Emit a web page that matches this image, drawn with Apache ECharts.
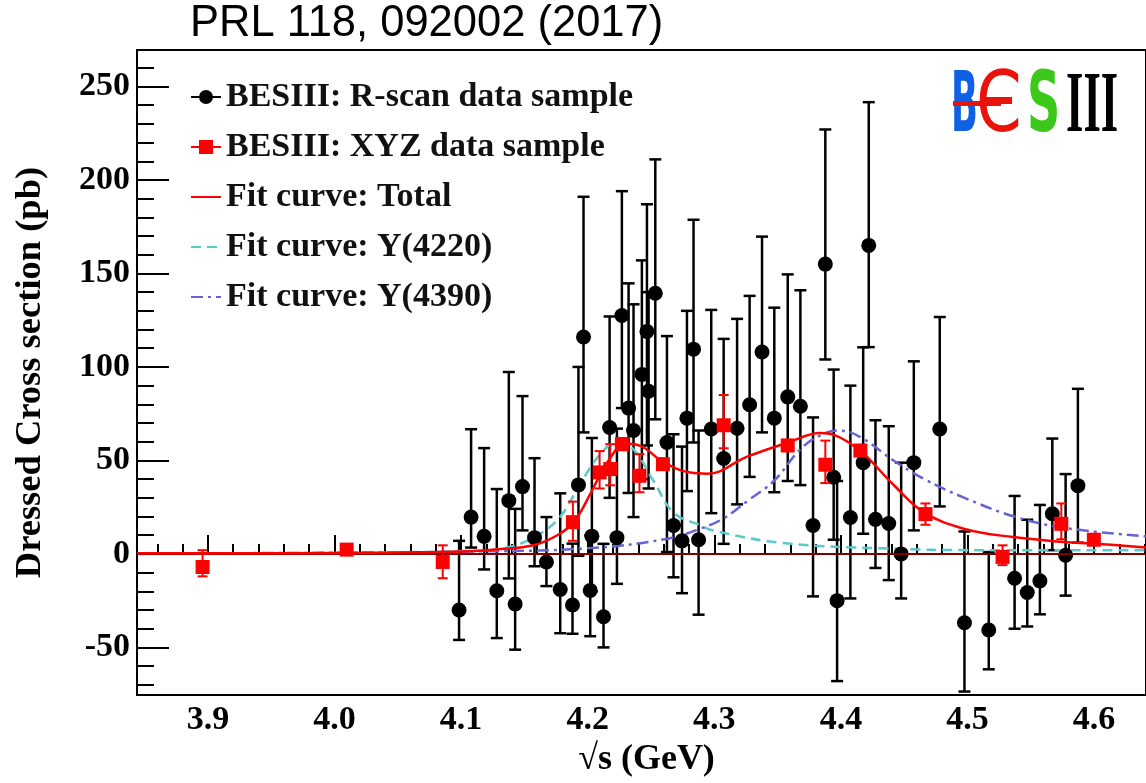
<!DOCTYPE html>
<html>
<head>
<meta charset="utf-8">
<script src="https://cdn.jsdelivr.net/npm/echarts@6/dist/echarts.min.js"></script>
<style>
  html, body { margin: 0; padding: 0; background: #fff; }
  #main { width: 1146px; height: 783px; }
</style>
</head>
<body>
<div id="main"></div>
<script>
// BESIII R-scan points: sqrt(s), value, lower and upper end of error bar
var rscanX = [4.0984,4.1079,4.1182,4.1282,4.1377,4.1427,4.1485,4.1580,4.1674,4.1783,4.1880,4.1927,4.1967,4.2020,4.2033,4.2125,4.2173,4.2231,4.2270,4.2323,4.2362,4.2428,4.2468,4.2481,4.2534,4.2626,4.2678,4.2745,4.2784,4.2836,4.2876,4.2976,4.3074,4.3180,4.3279,4.3377,4.3474,4.3580,4.3680,4.3780,4.3877,4.3943,4.3970,4.4075,4.4176,4.4220,4.4273,4.4378,4.4476,4.4576,4.4781,4.4976,4.5168,4.5372,4.5472,4.5572,4.5670,4.5775,4.5872];
var rscanY = [-30,19.7,9.4,-19.7,28.5,-26.8,36,8.7,-4.3,-19,-27.3,36.9,116,-19.5,9.5,-33.6,67.6,8.7,127.5,78,66,96,119,87,139.4,59.6,15.2,7,72.6,109.5,7.6,66.8,51,67.2,79.8,108,72.6,84,79,15.2,155,41,-25,19.5,48.8,165,18.5,16.3,0,48.8,66.8,-36.8,-40.7,-13,-20.6,-14.4,21.5,-0.7,36.5];
var rscanLo = [-46,3.4,-8.3,-45,-13.1,-51.2,12.6,-6.6,-17.2,-42.4,-42.7,-1,65,-44,-20,-50,30,-16,78,32.6,19.7,40,58,35,72,1,-12.5,-21,33.6,59.6,-32.5,21.8,5.4,26.5,41.2,65,33,39,36.8,-22.7,104,7.6,-68,-23.8,10.8,110.6,-7.5,-14,-23.8,12.6,25.4,-73.6,-61.7,-40,-38.8,-32.3,2,-22.3,6];
var rscanHi = [7,66.7,56.6,34.7,97.3,24.1,84.4,51.2,19.7,32.4,5.5,100,191,10,62,5.4,127,67,194,144.7,133.5,157,187,140,211,116.5,64,57.4,130,178.7,66,130.5,115,125.7,138,169.7,131.7,149.5,141,73,227,98.6,39,90,110.5,241.6,71.5,68.3,48.8,103,126.7,12,1,31,18.3,26.2,61.7,42.7,88.3];

// BESIII XYZ points
var xyzX = [3.8958,4.0096,4.0855,4.1883,4.2094,4.2178,4.2270,4.2409,4.2594,4.3074,4.3580,4.3877,4.4154,4.4668,4.5277,4.5741,4.5998];
var xyzY = [-7,2.3,-4.3,17,43.6,45.4,58.7,41.8,48,68.8,58,47.7,55.3,21.3,-1.6,16.1,7.6];
var xyzLo = [-12,0.5,-13,7,35,36.7,55.5,33,45,56.5,55,37.9,52.3,15.6,-6,7.8,5];
var xyzHi = [2,4,4.6,28,55,58.7,62,53.4,51,85,61,60.6,58.3,27,4.6,27,10];

// fit curves
var totalX = [3.844,3.95,4.05,4.10,4.13,4.157,4.176,4.189,4.202,4.21,4.22,4.228,4.2415,4.26,4.281,4.2945,4.326,4.358,4.384,4.394,4.4154,4.4415,4.465,4.497,4.536,4.576,4.60,4.641];
var totalY = [0.3,0.4,0.8,1.3,2.5,4.6,10,17,32,42.7,53.4,59,57.8,49,43.5,42.9,52,59.5,64.7,63.8,55,37,22.5,13.5,9,6.4,5.5,3.4];
var y4220X = [3.844,4.0,4.1,4.131,4.157,4.178,4.194,4.21,4.223,4.236,4.252,4.268,4.2889,4.2996,4.353,4.432,4.511,4.641];
var y4220Y = [0.2,0.5,1.5,2.8,8.7,19.7,37.4,53.4,59.6,56,39,22,15.3,12.4,5.9,3,2,2];
var y4390X = [3.844,4.0,4.1,4.2,4.262,4.2889,4.3074,4.3265,4.347,4.368,4.384,4.398,4.4154,4.4415,4.466,4.4976,4.537,4.576,4.641];
var y4390Y = [0.3,0.6,1.2,3,8,13.5,19,28.5,39,56,63.5,66,62.5,50,40,30,20,14,9.4];

// axis ticks
var xLabels = [3.9,4.0,4.1,4.2,4.3,4.4,4.5,4.6];
var xMinor = [3.86,3.88,3.92,3.94,3.96,3.98,4.02,4.04,4.06,4.08,4.12,4.14,4.16,4.18,4.22,4.24,4.26,4.28,4.32,4.34,4.36,4.38,4.42,4.44,4.46,4.48,4.52,4.54,4.56,4.58,4.62,4.64];
var yLabels = [-50,0,50,100,150,200,250];
var yMinor = [-70,-60,-40,-30,-20,-10,10,20,30,40,60,70,80,90,110,120,130,140,160,170,180,190,210,220,230,240,260];

function zip(a, b, c, d) {
  return a.map(function (v, i) { return c ? [v, b[i], c[i], d[i]] : [v, b[i]]; });
}

function errBar(color, width, cap) {
  return function (params, api) {
    var x = api.value(0);
    var top = api.coord([x, api.value(3)]);
    var bot = api.coord([x, api.value(2)]);
    var st = { stroke: color, lineWidth: width };
    return {
      type: 'group',
      children: [
        { type: 'line', shape: { x1: top[0], y1: top[1], x2: bot[0], y2: bot[1] }, style: st },
        { type: 'line', shape: { x1: top[0] - cap, y1: top[1], x2: top[0] + cap, y2: top[1] }, style: st },
        { type: 'line', shape: { x1: bot[0] - cap, y1: bot[1], x2: bot[0] + cap, y2: bot[1] }, style: st }
      ]
    };
  };
}

var serif = 'Liberation Serif';
var chart = echarts.init(document.getElementById('main'));
var option = {
  animation: false,
  title: {
    text: 'PRL 118, 092002 (2017)',
    left: 190, top: 2, padding: 0,
    textStyle: { fontFamily: 'Liberation Sans', fontWeight: 'normal', fontSize: 43.5, color: '#000' }
  },
  grid: { left: 137, top: 50, right: -3, bottom: 84, show: true, borderColor: '#000', borderWidth: 2 },
  legend: {
    left: 190, top: 79, orient: 'vertical', padding: 0,
    itemWidth: 30, itemHeight: 14, itemGap: 14,
    selectedMode: false,
    textStyle: { fontFamily: serif, fontWeight: 'bold', fontSize: 34, lineHeight: 36, color: '#111' },
    data: [
      { name: 'BESIII: R-scan data sample', icon: 'path://M0,6H30V8H0Z M22,7A7,7 0 1 1 8,7A7,7 0 1 1 22,7Z' },
      { name: 'BESIII: XYZ data sample', icon: 'path://M0,6H30V8H0Z M8,0H22V14H8Z' },
      { name: 'Fit curve: Total', itemStyle: { opacity: 0 } },
      { name: 'Fit curve: Y(4220)', itemStyle: { opacity: 0 } },
      { name: 'Fit curve: Y(4390)', itemStyle: { opacity: 0 } }
    ]
  },
  xAxis: [
    {
      type: 'value', min: 3.844, max: 4.641,
      name: '√s (GeV)', nameLocation: 'middle', nameGap: 46,
      nameTextStyle: { fontFamily: serif, fontWeight: 'bold', fontSize: 36, color: '#000', padding: [0, 0, 0, 10] },
      axisLine: { lineStyle: { color: '#000', width: 2 } },
      axisTick: { inside: true, length: 19, customValues: xLabels, lineStyle: { color: '#000', width: 2 } },
      axisLabel: { customValues: xLabels, margin: 8, fontFamily: serif, fontWeight: 'bold', fontSize: 34, color: '#000',
        formatter: function (v) { return v.toFixed(1); } },
      splitLine: { show: false }
    },
    {
      type: 'value', min: 3.844, max: 4.641, position: 'bottom',
      axisLine: { show: false },
      axisTick: { inside: true, length: 10, customValues: xMinor, lineStyle: { color: '#000', width: 2 } },
      axisLabel: { show: false },
      splitLine: { show: false }
    }
  ],
  yAxis: [
    {
      type: 'value', min: -75.5, max: 269.5,
      name: 'Dressed Cross section (pb)', nameLocation: 'middle', nameGap: 88,
      nameTextStyle: { fontFamily: serif, fontWeight: 'bold', fontSize: 36.5, color: '#000' },
      axisLine: { lineStyle: { color: '#000', width: 2 } },
      axisTick: { inside: true, length: 32, customValues: yLabels, lineStyle: { color: '#000', width: 2 } },
      axisLabel: { customValues: yLabels, margin: 7, fontFamily: serif, fontWeight: 'bold', fontSize: 34, color: '#000' },
      splitLine: { show: false }
    },
    {
      type: 'value', min: -75.5, max: 269.5, position: 'left',
      axisLine: { show: false },
      axisTick: { inside: true, length: 17, customValues: yMinor, lineStyle: { color: '#000', width: 2 } },
      axisLabel: { show: false },
      splitLine: { show: false }
    }
  ],
  graphic: [
    { type: 'text', x: 951, y: 109, scaleX: 0.42, style: { text: 'B', font: 'bold 84px "DejaVu Sans"', fill: '#1060e6', textVerticalAlign: 'middle' } },
    { type: 'rect', shape: { x: 953, y: 101, width: 48, height: 5 }, style: { fill: '#e8140c' } },
    { type: 'text', x: 976, y: 109, scaleX: 0.78, style: { text: 'Є', font: '84px "DejaVu Sans"', fill: '#e8140c', textVerticalAlign: 'middle' } },
    { type: 'text', x: 1027, y: 109, scaleX: 0.55, style: { text: 'S', font: 'bold 84px "DejaVu Sans"', fill: '#3cc81a', textVerticalAlign: 'middle' } },
    { type: 'text', x: 1066, y: 109, scaleX: 0.52, style: { text: 'III', font: 'bold 86px "Liberation Serif"', fill: '#000', textVerticalAlign: 'middle' } }
  ],
  series: [
    {
      name: 'Fit curve: Y(4220)', type: 'line', smooth: 0.4, symbol: 'none', color: '#5cc8cc',
      lineStyle: { color: '#5cc8cc', width: 2.5, type: [10, 6] },
      data: zip(y4220X, y4220Y)
    },
    {
      name: 'Fit curve: Y(4390)', type: 'line', smooth: 0.4, symbol: 'none', color: '#6464d2',
      lineStyle: { color: '#6464d2', width: 2.5, type: [12, 5, 3, 5] },
      data: zip(y4390X, y4390Y)
    },
    {
      name: 'rscan-err', type: 'custom', renderItem: errBar('#000', 2.5, 6),
      encode: { x: 0, y: [2, 3] }, data: zip(rscanX, rscanY, rscanLo, rscanHi), z: 3
    },
    {
      name: 'BESIII: R-scan data sample', type: 'scatter', symbol: 'circle', symbolSize: 15,
      itemStyle: { color: '#000', opacity: 1 }, data: zip(rscanX, rscanY), z: 4
    },
    {
      name: 'Fit curve: Total', type: 'line', smooth: 0.4, symbol: 'none', color: '#ff0000',
      lineStyle: { color: '#ff0000', width: 2.5 },
      data: zip(totalX, totalY), z: 5,
      markLine: {
        silent: true, symbol: 'none', label: { show: false },
        lineStyle: { color: '#800000', width: 2, type: 'solid' },
        data: [{ yAxis: 0 }]
      }
    },
    {
      name: 'xyz-err', type: 'custom', renderItem: errBar('#ff0000', 2, 5),
      encode: { x: 0, y: [2, 3] }, data: zip(xyzX, xyzY, xyzLo, xyzHi), z: 6
    },
    {
      name: 'BESIII: XYZ data sample', type: 'scatter', symbol: 'rect', symbolSize: 14,
      itemStyle: { color: '#ff0000', opacity: 1 }, data: zip(xyzX, xyzY), z: 7
    }
  ]
};
chart.setOption(option);
</script>
</body>
</html>
